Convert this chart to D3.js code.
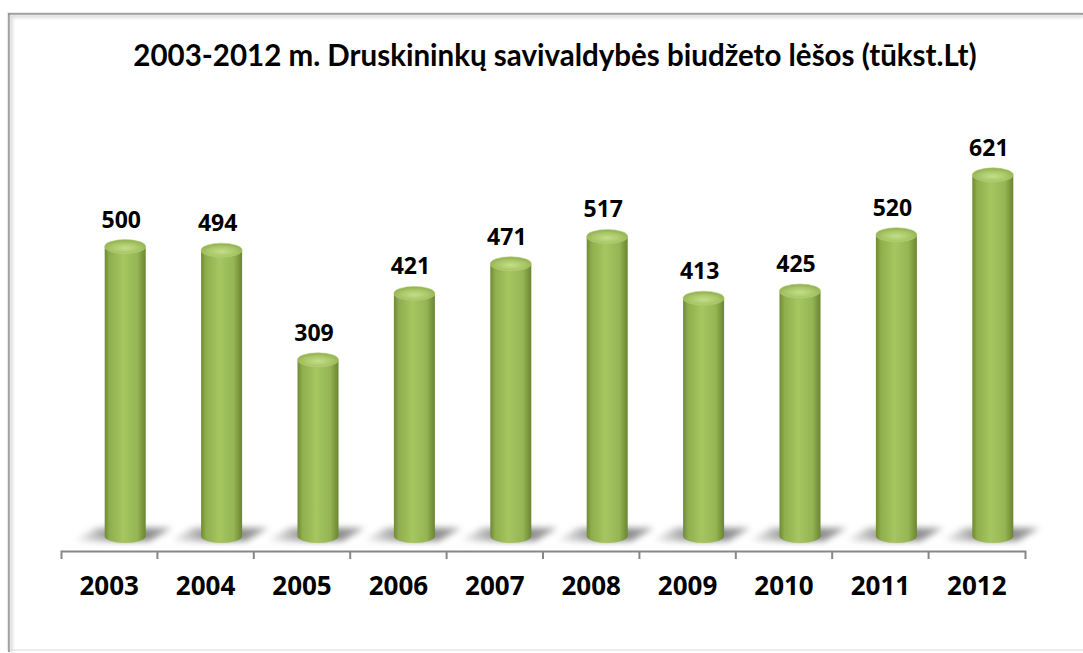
<!DOCTYPE html>
<html>
<head>
<meta charset="utf-8">
<script src="https://cdn.jsdelivr.net/npm/d3@7"></script>
<style>
  html, body { margin: 0; padding: 0; background: #fff; }
  svg text { font-family: "Open Sans", Lato, sans-serif; font-weight: bold; fill: #000; }
</style>
</head>
<body>
<div id="chart"></div>
<script>
const years = ["2003", "2004", "2005", "2006", "2007", "2008", "2009", "2010", "2011", "2012"];
const values = [500, 494, 309, 421, 471, 517, 413, 425, 520, 621];
const title = "2003-2012 m. Druskininkų savivaldybės biudžeto lėšos (tūkst.Lt)";

const w = 1083;
const h = 653;

const svg = d3.select("#chart")
              .append("svg")
              .attr("width", w)
              .attr("height", h);

const defs = svg.append("defs");

const body = defs.append("linearGradient").attr("id", "cyl").attr("x1", "0%").attr("x2", "100%");
body.append("stop").attr("offset", "0%").attr("stop-color", "#6f8b33");
body.append("stop").attr("offset", "12%").attr("stop-color", "#8fae4c");
body.append("stop").attr("offset", "45%").attr("stop-color", "#a6c662");
body.append("stop").attr("offset", "80%").attr("stop-color", "#95b453");
body.append("stop").attr("offset", "100%").attr("stop-color", "#6a8530");

const cap = defs.append("radialGradient").attr("id", "cap").attr("cx", "50%").attr("cy", "60%").attr("r", "60%");
cap.append("stop").attr("offset", "0%").attr("stop-color", "#c5de8a");
cap.append("stop").attr("offset", "60%").attr("stop-color", "#a7c666");
cap.append("stop").attr("offset", "100%").attr("stop-color", "#8eab4c");

const blur = defs.append("filter").attr("id", "blur").attr("x", "-50%").attr("y", "-50%").attr("width", "200%").attr("height", "200%");
blur.append("feGaussianBlur").attr("stdDeviation", 3);

const shade = defs.append("linearGradient").attr("id", "shade").attr("x1", "0%").attr("x2", "100%");
shade.append("stop").attr("offset", "0%").attr("stop-color", "#ffffff");
shade.append("stop").attr("offset", "50%").attr("stop-color", "#6e6e6e");
shade.append("stop").attr("offset", "100%").attr("stop-color", "#a0a0a0");

const frameShadow = defs.append("filter").attr("id", "fshadow").attr("x", "-5%").attr("y", "-5%").attr("width", "110%").attr("height", "110%");
frameShadow.append("feGaussianBlur").attr("stdDeviation", 1.5);

// frame
svg.append("rect")
   .attr("x", 8).attr("y", 13)
   .attr("width", 1085).attr("height", 637)
   .attr("fill", "none")
   .attr("stroke", "#ececec")
   .attr("stroke-width", 2);
svg.append("path")
   .attr("d", "M9,652V14H1083")
   .attr("fill", "none")
   .attr("stroke", "#8f8f8f")
   .attr("stroke-width", 2);
svg.append("path")
   .attr("d", "M11,652V16H1083")
   .attr("fill", "none")
   .attr("stroke", "#d6d6d6")
   .attr("stroke-width", 3)
   .attr("filter", "url(#fshadow)");

// title (Lato is narrower, closer to the original proportions)
const t = svg.append("text")
   .attr("x", 555)
   .attr("y", 66)
   .attr("text-anchor", "middle")
   .style("font-family", "Lato, sans-serif")
   .style("font-size", "26px")
   .text(title);
const tw = t.node().getComputedTextLength();
t.style("font-size", (26 * 844 / tw) + "px");

const xScale = d3.scaleBand()
                 .domain(years)
                 .range([61, 1025])
                 .paddingInner(0)
                 .paddingOuter(0);

const yScale = d3.scaleLinear()
                 .domain([0, 700])
                 .range([543, 128]);

const barW = 41;
const ry = 7;
const shift = 16;
const base = yScale(0) - ry;

const bars = svg.selectAll(".bar")
                .data(years.map((y, i) => ({ year: y, value: values[i] })))
                .enter()
                .append("g")
                .attr("class", "bar")
                .attr("transform", (d) => "translate(" + (xScale(d.year) + xScale.bandwidth() / 2 + shift) + ",0)");

// floor shadow
bars.append("path")
    .attr("d", "M" + (-barW / 2 - 8) + "," + (base - 8) + "L" + (barW / 2 + 26) + "," + (base - 8) +
               "L" + (barW / 2 + 4) + "," + (base + 5) + "L" + (-barW / 2 - 32) + "," + (base + 5) + "Z")
    .attr("fill", "url(#shade)")
    .attr("opacity", 0.95)
    .attr("filter", "url(#blur)");

bars.append("path")
    .attr("d", (d) => {
      const top = yScale(d.value);
      const r = barW / 2;
      return "M" + (-r) + "," + top + "V" + base +
             "A" + r + "," + ry + " 0 0 0 " + r + "," + base +
             "V" + top + "Z";
    })
    .attr("fill", "url(#cyl)");

bars.append("ellipse")
    .attr("cx", 0)
    .attr("cy", (d) => yScale(d.value))
    .attr("rx", barW / 2)
    .attr("ry", ry)
    .attr("fill", "url(#cap)")
    .attr("stroke", "#b9d47e")
    .attr("stroke-width", 0.6);

bars.append("text")
    .attr("x", -4)
    .attr("y", (d) => yScale(d.value) - 19)
    .attr("text-anchor", "middle")
    .style("font-size", "23px")
    .text((d) => d.value);

// axis
const xAxis = d3.axisBottom(xScale).tickSizeInner(0).tickSizeOuter(8).tickPadding(20);
const axis = svg.append("g")
                .attr("transform", "translate(0,551)")
                .call(xAxis);
axis.select(".domain").attr("stroke", "#878787").attr("stroke-width", 2);
axis.selectAll(".tick text")
    .style("font-size", "26px")
    .style("font-family", "'Open Sans', sans-serif")
    .attr("dy", "0.71em")
    .attr("y", 26)
    .attr("fill", "#000");
axis.selectAll(".tick line").remove();
axis.selectAll(".bound")
    .data(years.slice(1))
    .enter()
    .append("line")
    .attr("class", "bound")
    .attr("x1", (d) => xScale(d))
    .attr("x2", (d) => xScale(d))
    .attr("y1", 0)
    .attr("y2", 8)
    .attr("stroke", "#878787")
    .attr("stroke-width", 2);
</script>
</body>
</html>
